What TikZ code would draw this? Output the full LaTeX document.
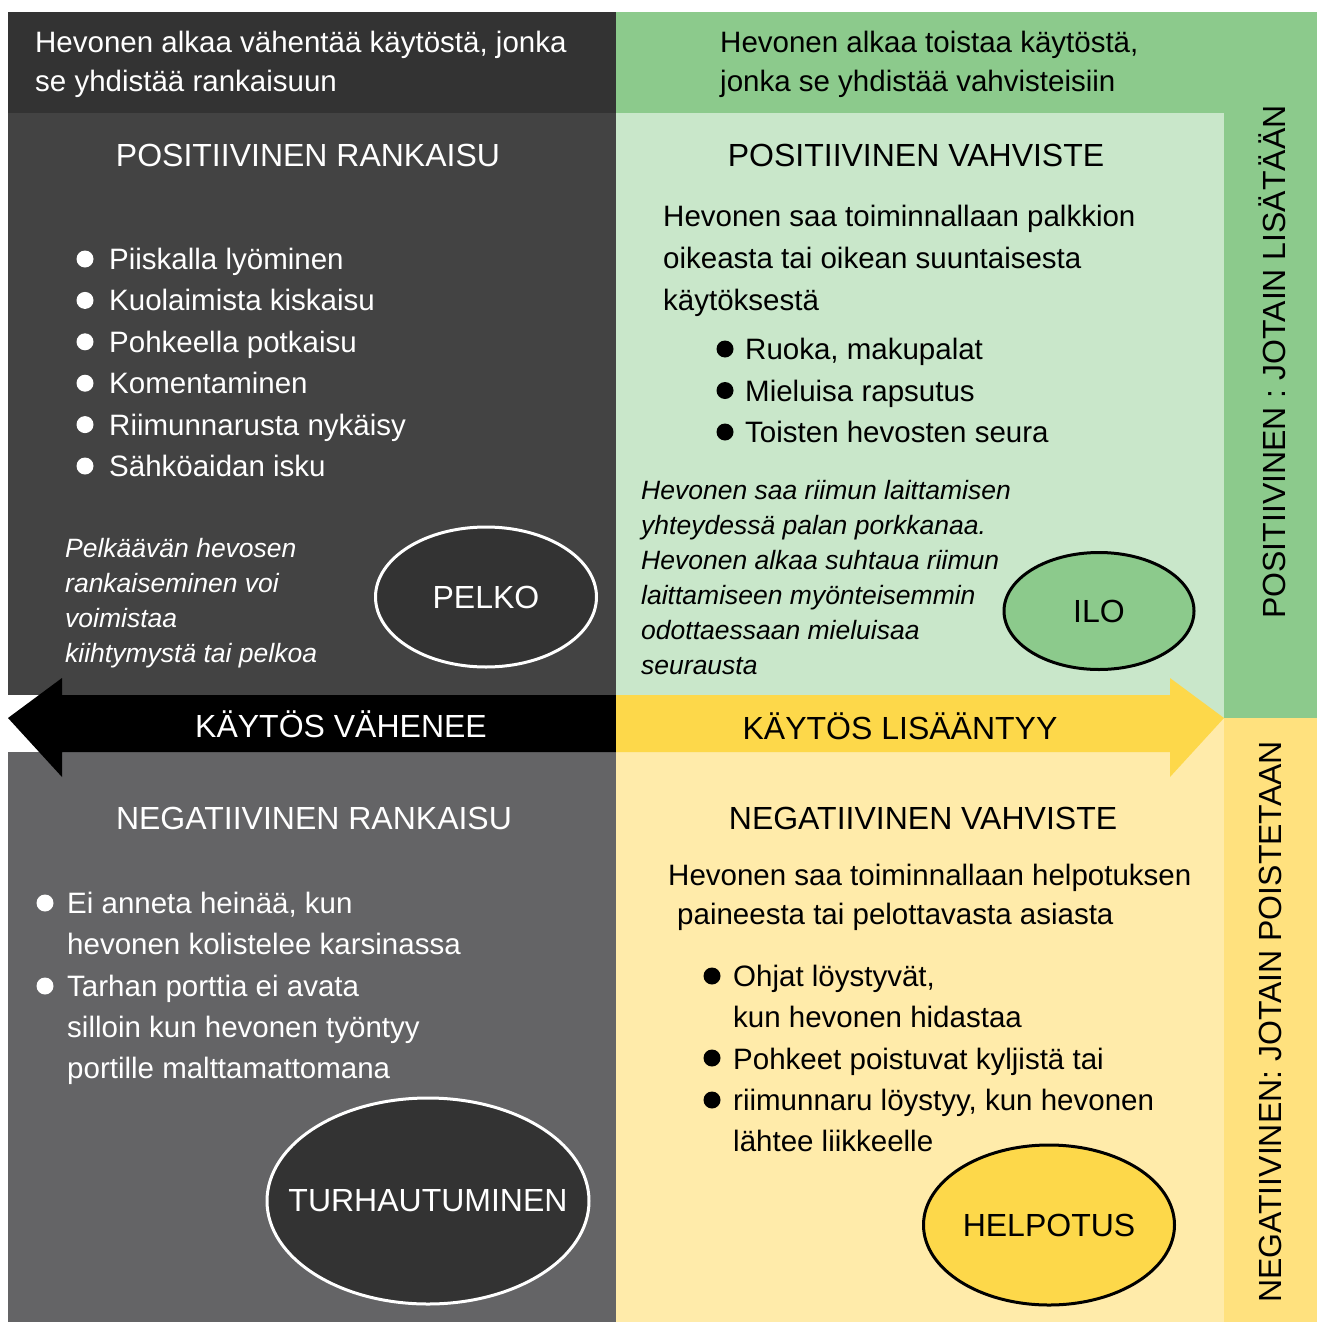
\documentclass[tikz,border=0pt]{standalone}
\usepackage{fontspec}
\setmainfont{Liberation Sans}
\usepackage{xcolor}
\usepackage{tikz}
\usetikzlibrary{positioning, shapes.geometric}

\definecolor{darktop}{HTML}{333333}
\definecolor{darkup}{HTML}{434343}
\definecolor{greylow}{HTML}{646466}
\definecolor{greentop}{HTML}{8CCA8C}
\definecolor{greenlight}{HTML}{C9E7CA}
\definecolor{yellowbar}{HTML}{FDD84A}
\definecolor{yellowlight}{HTML}{FFEBAA}
\definecolor{yellowcol}{HTML}{FFE17E}

% base anchor of a multi-line node = baseline of its last line
\tikzset{
  body/.style={anchor=base west, inner sep=0pt, align=left, font=\fontsize{29.5}{39}\selectfont},
  note/.style={anchor=base west, inner sep=0pt, align=left, font=\fontsize{26.5}{35}\selectfont\itshape},
  head/.style={anchor=base, inner sep=0pt, font=\fontsize{32}{38}\selectfont},
  mood/.style={ellipse, draw, line width=3pt, inner sep=0pt, font=\fontsize{32}{38}\selectfont},
}
\newcommand{\moodtext}[1]{\makebox[0pt]{#1}}

\begin{document}
\begin{tikzpicture}[x=1pt, y=-1pt]
      \useasboundingbox (0,0) rectangle (1317,1322);
      \fill[white] (0,0) rectangle (1317,1322);

      % quadrants
      \fill[darktop] (8,12) rectangle (616,113);
      \fill[darkup] (8,113) rectangle (616,695);
      \fill[greylow] (8,752) rectangle (616,1322);
      \fill[greentop] (616,12) rectangle (1317,113);
      \fill[greentop] (1224,113) rectangle (1317,718);
      \fill[greenlight] (616,113) rectangle (1224,718);
      \fill[yellowlight] (616,718) rectangle (1224,1322);
      \fill[yellowcol] (1224,718) rectangle (1317,1322);

      % arrows
      \fill[black] (616,695) -- (62,695) -- (62,678) -- (8,718) -- (62,777) -- (62,752) -- (616,752) -- cycle;
      \fill[yellowbar] (616,695) -- (1170,695) -- (1170,678) -- (1224,718) -- (1170,777) -- (1170,752) -- (616,752) -- cycle;
      \node[head, white] (less) at (341,737.5) {KÄYTÖS VÄHENEE};
      \node[head] (more) at (900,739.5) {KÄYTÖS LISÄÄNTYY};

      % positiivinen rankaisu
      \node[body, white] (prtop) at (35,91.5) {Hevonen alkaa vähentää käytöstä, jonka\\se yhdistää rankaisuun};
      \node[head, white] (prhead) at (308,166.5) {POSITIIVINEN RANKAISU};
      \node[body, white, font=\fontsize{29.5}{41.4}\selectfont] (prlist) at (109,476.5)
        {Piiskalla lyöminen\\Kuolaimista kiskaisu\\Pohkeella potkaisu\\Komentaminen\\Riimunnarusta nykäisy\\Sähköaidan isku};
      \foreach \k in {0,...,5}
        \fill[white] (85,{259+41.4*\k}) circle (8.5);
      \node[note, white] (prnote) at (65,662.5) {Pelkäävän hevosen\\rankaiseminen voi\\voimistaa\\kiihtymystä tai pelkoa};
      \node[mood, fill=darktop, draw=white, text=white, minimum width=221pt, minimum height=140pt] (fear) at (486,597) {\moodtext{PELKO}};

      % positiivinen vahviste
      \node[body] (pvtop) at (720,91.5) {Hevonen alkaa toistaa käytöstä,\\jonka se yhdistää vahvisteisiin};
      \node[head] (pvhead) at (916,166.5) {POSITIIVINEN VAHVISTE};
      \node[body, font=\fontsize{29.5}{42}\selectfont] (pvtext) at (663,310.5)
        {Hevonen saa toiminnallaan palkkion\\oikeasta tai oikean suuntaisesta\\käytöksestä};
      \node[body, font=\fontsize{29.5}{41.5}\selectfont] (pvlist) at (745,442.5)
        {Ruoka, makupalat\\Mieluisa rapsutus\\Toisten hevosten seura};
      \foreach \k in {0,1,2}
        \fill[black] (725,{349+41.5*\k}) circle (8.5);
      \node[note] (pvnote) at (641,674.5) {Hevonen saa riimun laittamisen\\yhteydessä palan porkkanaa.\\Hevonen alkaa suhtaua riimun\\laittamiseen myönteisemmin\\odottaessaan mieluisaa\\seurausta};
      \node[mood, fill=greentop, minimum width=190pt, minimum height=117pt] (joy) at (1099,611) {\moodtext{ILO}};

      % negatiivinen rankaisu
      \node[head, white] (nrhead) at (314,829.5) {NEGATIIVINEN RANKAISU};
      \node[body, white, font=\fontsize{29.5}{41.3}\selectfont] (nrlist) at (67,1078.7)
        {Ei anneta heinää, kun\\hevonen kolistelee karsinassa\\Tarhan porttia ei avata\\silloin kun hevonen työntyy\\portille malttamattomana};
      \foreach \y in {903,986}
        \fill[white] (45,\y) circle (8.5);
      \node[mood, fill=darktop, draw=white, text=white, minimum width=322pt, minimum height=206pt] (frust) at (428,1201) {\moodtext{TURHAUTUMINEN}};

      % negatiivinen vahviste
      \node[head] (nvhead) at (923,829.5) {NEGATIIVINEN VAHVISTE};
      \node[body] (nvtext) at (668,924.5)
        {Hevonen saa toiminnallaan helpotuksen\\\hspace*{9pt}paineesta tai pelottavasta asiasta};
      \node[body, font=\fontsize{29.5}{41.25}\selectfont] (nvlist) at (733,1151.5)
        {Ohjat löystyvät,\\kun hevonen hidastaa\\Pohkeet poistuvat kyljistä tai\\riimunnaru löystyy, kun hevonen\\lähtee liikkeelle};
      \foreach \y in {976,1058,1100}
        \fill[black] (712,\y) circle (8.5);
      \node[mood, fill=yellowbar, minimum width=251pt, minimum height=160pt] (relief) at (1049,1225) {\moodtext{HELPOTUS}};

      % side labels
      \node[font=\fontsize{32}{38}\selectfont, rotate=90, inner sep=0pt] (addside) at (1272,362) {POSITIIVINEN : JOTAIN LISÄTÄÄN};
      \node[font=\fontsize{32}{38}\selectfont, rotate=90, inner sep=0pt] (takeside) at (1270,1022) {NEGATIIVINEN: JOTAIN POISTETAAN};
    \end{tikzpicture}
\end{document}
